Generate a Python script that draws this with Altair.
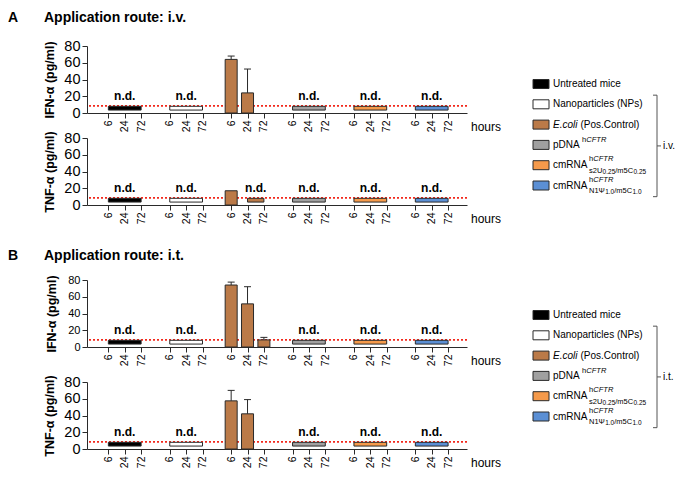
import altair as alt
import pandas as pd

FONT = "Liberation Sans"

HOURS = ["6", "24", "72"]
GROUPS = ["Untreated mice", "Nanoparticles (NPs)", "E.coli (Pos.Control)",
          "pDNA hCFTR", "cmRNA hCFTR s2U0.25/m5C0.25", "cmRNA hCFTR N1Ψ1.0/m5C1.0"]
COLORS = ["#000000", "#FFFFFF", "#BB7A48", "#A0A0A0", "#F59A4B", "#5B8FD4"]

ND = "n.d."
# E.coli (positive control) readings per panel at 6, 24, 72 h (None = nothing shown)
IV_IFN_ECOLI = [64, 24, None]
IV_IFN_ECOLI_SD = [4, 28.5, None]
IV_TNF_ECOLI = [17, ND, ND]
IV_TNF_ECOLI_SD = [None, None, None]
IT_IFN_ECOLI = [74, 51.5, 8.5]
IT_IFN_ECOLI_SD = [3.5, 20.5, 3]
IT_TNF_ECOLI = [57.5, 42, None]
IT_TNF_ECOLI_SD = [12.5, 17, None]
ND_BOX = [3.5, 8]      # extent of the n.d. boxes (pg/ml)
LOD = 8.5              # detection limit (pg/ml)
Y_TICKS = [0, 20, 40, 60, 80]

# legend texts
LEG_MAIN = ["Untreated mice", "Nanoparticles (NPs)", "E.coli", "pDNA", "cmRNA", "cmRNA"]
LEG_TAIL = ["", "", "(Pos.Control)", "", "", ""]
LEG_SUP = [None, None, None, ("h", "CFTR"), ("h", "CFTR"), ("h", "CFTR")]
LEG_SUB = [None, None, None, None, ["s2U", "0.25", "/m5C", "0.25"], ["N1Ψ", "1.0", "/m5C", "1.0"]]

RED = "#F2291C"
DARK = "#2a2a2a"

# ---------------- layout ----------------
W = 380
H = 67
GSTEP = 3.75
XDOM = [-1.0, 21.6]


def pos(g, t):
    return g * GSTEP + t


TICKVALS = [pos(g, t) for g in range(6) for t in range(3)]
color = alt.Color("group:N", scale=alt.Scale(domain=GROUPS, range=COLORS), legend=None)


def legend(route_label, o, s):
    d0 = -o / s
    d1 = d0 + H / s
    ys = alt.Scale(domain=[d0, d1], reverse=True, nice=False, zero=False)

    def Yr(f):
        return alt.Y(f, type="quantitative", scale=ys, axis=None)

    hh = 4.5 / s
    sw = pd.DataFrame({"group": GROUPS, "row": list(range(6))})
    layers = [alt.Chart(sw).transform_calculate(
        lo=f"datum.row - {hh}", hi=f"datum.row + {hh}").mark_rect(
        stroke=DARK, strokeWidth=1).encode(
        x=alt.value(W + 66), x2=alt.value(W + 82), y=Yr("lo"), y2="hi", color=color)]

    def piece(txt, row, x, size=10, style="normal", dy=0):
        return alt.Chart(pd.DataFrame({"row": [row], "t": [txt]})).mark_text(
            align="left", baseline="middle", font=FONT, fontSize=size, fontStyle=style,
            dy=dy, color="black").encode(x=alt.value(W + x), y=Yr("row"), text="t:N")

    TX = 86
    main_w = {"pDNA": 29, "cmRNA": 36}
    for r in range(6):
        layers.append(piece(LEG_MAIN[r], r, TX, style="italic" if LEG_TAIL[r] else "normal"))
        if LEG_TAIL[r]:
            layers.append(piece(LEG_TAIL[r], r, TX + 27.5))
        if LEG_SUP[r]:
            sx = TX + main_w[LEG_MAIN[r]]
            sdy = -5 if LEG_SUB[r] is None else -6
            layers.append(piece(LEG_SUP[r][0], r, sx, size=7.5, dy=sdy))
            layers.append(piece(LEG_SUP[r][1], r, sx + 4.3, size=7.5, style="italic", dy=sdy))
        if LEG_SUB[r]:
            sx = TX + main_w[LEG_MAIN[r]]
            offs = [0, 13.6, 26.2, 44.5] if r == 4 else [0, 16.2, 25.2, 43.5]
            for k, txt in enumerate(LEG_SUB[r]):
                small = k % 2 == 1
                layers.append(piece(txt, r, sx + offs[k], size=6.5 if small else 7.5,
                                    dy=6.5 if small else 5.5))
    br = pd.DataFrame({"a": [0.55], "b": [5.55], "m": [3.05]})
    bc = "#555555"
    layers.append(alt.Chart(br).mark_rule(color=bc, strokeWidth=1).encode(
        x=alt.value(W + 190), y=Yr("a"), y2="b"))
    layers.append(alt.Chart(br).mark_rule(color=bc, strokeWidth=1).encode(
        x=alt.value(W + 186), x2=alt.value(W + 190), y=Yr("a")))
    layers.append(alt.Chart(br).mark_rule(color=bc, strokeWidth=1).encode(
        x=alt.value(W + 186), x2=alt.value(W + 190), y=Yr("b")))
    layers.append(alt.Chart(br).mark_rule(color=bc, strokeWidth=1).encode(
        x=alt.value(W + 190), x2=alt.value(W + 194), y=Yr("m")))
    layers.append(piece(route_label, 3.05, 196))
    return alt.layer(*layers)


def panel(ecoli, sd, ytitle, label_size, title_pad, titles=None, leg=None):
    bars, errs, boxes = [], [], []
    for g, name in enumerate(GROUPS):
        vals = ecoli if g == 2 else [ND] * 3
        sds = sd if g == 2 else [None] * 3
        for t, v in enumerate(vals):
            if v is not None and v != ND:
                bars.append({"group": name, "pos": pos(g, t), "value": v})
                if sds[t] is not None:
                    errs.append({"group": name, "pos": pos(g, t), "value": v, "top": v + sds[t]})
        t = 0
        while t < 3:
            if vals[t] == ND:
                s = t
                while t + 1 < 3 and vals[t + 1] == ND:
                    t += 1
                boxes.append({"group": name, "x0": pos(g, s), "x1": pos(g, t),
                              "xm": (pos(g, s) + pos(g, t)) / 2,
                              "lo": ND_BOX[0], "hi": ND_BOX[1], "label": ND})
            t += 1

    xs = alt.Scale(domain=XDOM, nice=False, zero=False)
    ys = alt.Scale(domain=[0, 80], nice=False)
    xaxis = alt.Axis(values=TICKVALS,
                     labelExpr="['6','24','72'][round(datum.value % 3.75)]",
                     labelAngle=270, labelFontSize=10.5, labelFont=FONT, labelColor="black",
                     tickSize=5, tickColor=DARK, domainColor=DARK, labelOverlap=False,
                     labelFlush=False, grid=False, title=None, labelPadding=2)
    yaxis = alt.Axis(values=Y_TICKS, title=ytitle, titleFont=FONT, titleFontSize=12.5,
                     titleFontWeight="bold", titleColor="black", titlePadding=title_pad,
                     labelFont=FONT, labelFontSize=label_size, labelColor="black",
                     tickSize=5, tickColor=DARK, domainColor=DARK, grid=False,
                     labelFlush=False, labelPadding=2)

    def X(f):
        return alt.X(f, type="quantitative", scale=xs, axis=xaxis)

    def Y(f):
        return alt.Y(f, type="quantitative", scale=ys, axis=yaxis)

    layers = []
    layers.append(alt.Chart(pd.DataFrame({"lod": [LOD]})).mark_rule(
        color=RED, strokeDash=[2, 2], strokeWidth=1.8).encode(y=Y("lod")))
    bdf = pd.DataFrame(bars)
    layers.append(alt.Chart(bdf).mark_bar(size=12, stroke=DARK, strokeWidth=1).encode(
        x=X("pos"), y=Y("value"), color=color))
    ndf = pd.DataFrame(boxes)
    layers.append(alt.Chart(ndf).mark_rect(stroke=DARK, strokeWidth=1).encode(
        x=X("x0"), x2="x1", y=Y("lo"), y2="hi", color=color))
    layers.append(alt.Chart(ndf).mark_text(font=FONT, fontSize=12, fontWeight="bold",
                                           baseline="middle", dy=-10, color="black").encode(
        x=X("xm"), y=Y("hi"), text="label:N"))
    if errs:
        edf = pd.DataFrame(errs)
        layers.append(alt.Chart(edf).mark_rule(color=DARK, strokeWidth=1).encode(
            x=X("pos"), y=Y("value"), y2="top"))
        layers.append(alt.Chart(edf).mark_tick(orient="horizontal", size=7, thickness=1,
                                               color=DARK, opacity=1).encode(
            x=X("pos"), y=Y("top")))
    layers.append(alt.Chart(pd.DataFrame({"t": ["hours"]})).mark_text(
        align="left", baseline="middle", fontSize=12, font=FONT, color="black").encode(
        x=alt.value(W + 4), y=alt.value(H + 14), text="t:N"))
    if titles:
        letter, text, ty = titles
        layers.append(alt.Chart(pd.DataFrame({"t": [letter]})).mark_text(
            align="left", baseline="middle", fontSize=14, fontWeight="bold", font=FONT,
            color="black").encode(x=alt.value(-79), y=alt.value(ty), text="t:N"))
        layers.append(alt.Chart(pd.DataFrame({"t": [text]})).mark_text(
            align="left", baseline="middle", fontSize=14, fontWeight="bold", font=FONT,
            color="black").encode(x=alt.value(-43), y=alt.value(ty), text="t:N"))
    plot = alt.layer(*layers)
    if leg is not None:
        return alt.layer(plot, leg).resolve_scale(y="independent").properties(width=W, height=H)
    return plot.properties(width=W, height=H)


def spacer(h):
    return alt.Chart(pd.DataFrame({"a": [0]})).mark_point(opacity=0).encode(
        x=alt.value(0), y=alt.value(0)).properties(width=W, height=h)


ifn_iv = panel(IV_IFN_ECOLI, IV_IFN_ECOLI_SD, "IFN-α (pg/ml)", 14.5, 7.5,
               ("A", "Application route: i.v.", -28), legend("i.v.", 38, 20.3))
tnf_iv = panel(IV_TNF_ECOLI, IV_TNF_ECOLI_SD, "TNF-α (pg/ml)", 14.5, 7.5)
ifn_it = panel(IT_IFN_ECOLI, IT_IFN_ECOLI_SD, "IFN-α (pg/ml)", 11, 9.5,
               ("B", "Application route: i.t.", -24), legend("i.t.", 35, 20.3))
tnf_it = panel(IT_TNF_ECOLI, IT_TNF_ECOLI_SD, "TNF-α (pg/ml)", 14.5, 7.5)

chart = alt.vconcat(ifn_iv, spacer(25), tnf_iv, spacer(75), ifn_it, spacer(35), tnf_it,
                    spacing=0, bounds="flush").properties(
    padding={"top": 3, "left": 0, "right": 0, "bottom": 0}
).configure(font=FONT).configure_view(strokeWidth=0, stroke="transparent")

chart.save("out.html", embed_options={"renderer": "svg", "actions": False})
